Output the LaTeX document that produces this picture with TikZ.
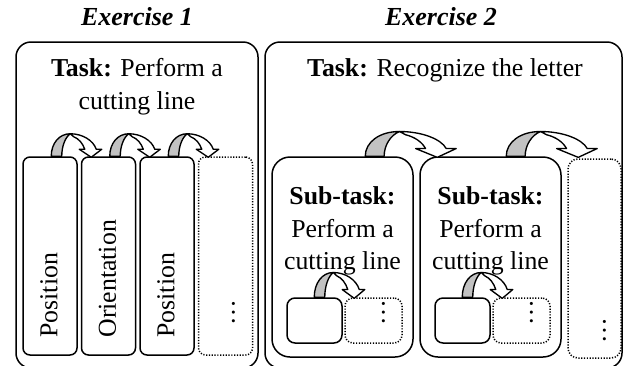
\documentclass[tikz,border=0pt]{standalone}
\usepackage{fontspec}
\setmainfont{Liberation Serif}
\usetikzlibrary{calc}
\begin{document}
\begin{tikzpicture}[x=1pt,y=-1pt,
  outerbox/.style={draw, line width=1.5pt, rounded corners=15pt, inner sep=0pt, minimum height=326pt},
  tallbox/.style={draw, line width=1.5pt, rounded corners=7pt, inner sep=0pt, minimum width=54pt, minimum height=198pt},
  subbox/.style={draw, line width=1.5pt, rounded corners=18pt, inner sep=0pt, minimum width=141pt, minimum height=200pt},
  smallbox/.style={draw, line width=1.5pt, rounded corners=8pt, inner sep=0pt, minimum width=55pt, minimum height=45pt},
  dottedline/.style={line width=1.5pt, dash pattern=on 1.2pt off 1.6pt},
  txt/.style={font=\fontsize{25.8pt}{32.5pt}\selectfont, align=center, inner sep=0pt},
  titletxt/.style={font=\fontsize{26pt}{30pt}\selectfont\bfseries\itshape, inner sep=0pt},
  vtxt/.style={txt, rotate=90, anchor=west},
  dotstxt/.style={font=\fontsize{25.8pt}{30pt}\selectfont, inner sep=0pt, rotate=90, anchor=base},
  arrowline/.style={draw, line width=1.35pt, line join=round},
  bend arrow/.pic={
    \filldraw[arrowline, fill=black!24] (0,0) .. controls (0,-13) and (8,-22.5) .. (19,-22.5)
      .. controls (14,-19) and (10.5,-10) .. (10.5,0) -- cycle;
    \filldraw[arrowline, fill=white] (19,-22.5) .. controls (31,-22.5) and (42,-16) .. (45,-7)
      -- (50.5,-7) -- (40,1) -- (28,-7) -- (33.5,-7)
      .. controls (31.5,-13) and (27.5,-17.5) .. (22.5,-19.5) -- cycle;
  }
]
\useasboundingbox (0,0) rectangle (623,365);
\clip (0,0) rectangle (623,365);

% titles
\node[titletxt] (t1) at (137,17) {Exercise 1};
\node[titletxt] (t2) at (441,17) {Exercise 2};

% outer boxes
\node[outerbox, minimum width=242pt] (ex1) at (137,205) {};
\node[outerbox, minimum width=357pt] (ex2) at (443.5,205) {};

\node[txt] (task1) at (137,86.5) {\textbf{Task:} Perform a\\cutting line};
\node[txt] (task2) at (445,70) {\textbf{Task:} Recognize the letter};

% exercise 1 steps
\node[tallbox] (p1) at (50,256) {};
\node[tallbox] (p2) at (108.5,256) {};
\node[tallbox] (p3) at (167,256) {};
\node[tallbox, dottedline] (p4) at (225.5,256) {};
\node[vtxt] (l1) at ($(p1.south)+(-1,-18)$) {Position};
\node[vtxt] (l2) at ($(p2.south)+(-1,-18)$) {Orientation};
\node[vtxt] (l3) at ($(p3.south)+(-1,-18)$) {Position};
\node[dotstxt] (d1) at (234.5,313) {…};

\path ($(p1.north west)+(29,0)$) pic {bend arrow};
\path ($(p2.north west)+(29,0)$) pic {bend arrow};
\path ($(p3.north west)+(29,0)$) pic {bend arrow};

% exercise 2 sub-tasks
\node[subbox] (sA) at (342.5,257) {};
\node[subbox] (sB) at (490.5,257) {};
\node[draw, dottedline, rounded corners=10pt, inner sep=0pt, minimum width=53pt, minimum height=199pt] (sC) at (594.5,258.5) {};
\node[txt] (stA) at (342.5,231) {\textbf{Sub-task:}\\Perform a\\cutting line};
\node[txt] (stB) at (490.5,231) {\textbf{Sub-task:}\\Perform a\\cutting line};

\node[smallbox] (a1) at (314.5,320.5) {};
\node[smallbox, dottedline, minimum width=57pt] (a2) at (373.5,320.5) {};
\node[smallbox] (b1) at (462.5,320.5) {};
\node[smallbox, dottedline, minimum width=57pt] (b2) at (521.5,320.5) {};
\node[dotstxt] (da) at (384.5,313) {…};
\node[dotstxt] (db) at (532.5,313) {…};
\node[dotstxt] (dc) at (605.5,331) {…};

\path ($(a1.north west)+(28,0)$) pic[yscale=1.1] {bend arrow};
\path ($(b1.north west)+(28,0)$) pic[yscale=1.1] {bend arrow};
\path ($(sA.north west)+(94,0)$) pic[xscale=1.8,yscale=1.1] {bend arrow};
\path ($(sB.north west)+(87,0)$) pic[xscale=1.8,yscale=1.1] {bend arrow};
\end{tikzpicture}
\end{document}
